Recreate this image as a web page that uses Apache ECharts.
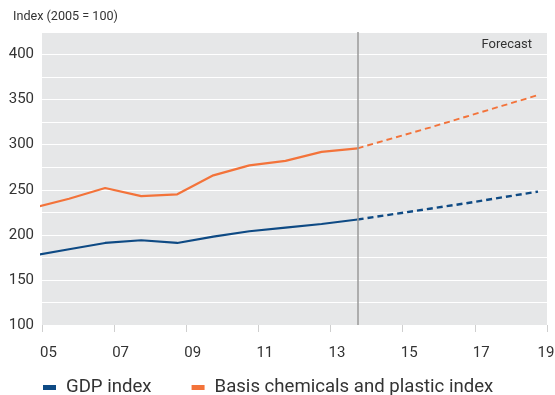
<!DOCTYPE html>
<html>
<head>
<meta charset="utf-8">
<script src="https://cdn.jsdelivr.net/npm/echarts@6/dist/echarts.min.js"></script>
<style>
html,body{margin:0;padding:0;background:#fff;}
#chart{width:555px;height:395px;}
</style>
</head>
<body>
<div id="chart"></div>
<script>
// Data (annual values plotted at year + 0.75)
const actualYears   = [2004.75, 2005.75, 2006.75, 2007.75, 2008.75, 2009.75, 2010.75, 2011.75, 2012.75, 2013.75];
const gdpActual     = [177, 184, 191, 194, 191, 198, 204, 208, 212, 217];
const chemActual    = [230, 240, 252, 243, 245, 266, 277, 282, 292, 296];
const forecastYears = [2013.75, 2014.75, 2015.75, 2016.75, 2017.75, 2018.75];
const gdpForecast   = [217, 223, 229, 235, 241.5, 248];
const chemForecast  = [296, 307.5, 319, 331, 343, 355];
const xTickLabels   = ['05', '07', '09', '11', '13', '15', '17', '19'];
const seriesNames   = ['GDP index', 'Basis chemicals and plastic index'];
const forecastStart = 2013.75;
const baseYear = 2005;

const toPts = (xs, ys) => xs.map((x, i) => [x - baseYear, ys[i]]);
const FONT = 'Roboto';
const BLUE = '#0e4a84', ORANGE = '#f3733a';

const chart = echarts.init(document.getElementById('chart'), null, {renderer: 'canvas'});
chart.setOption({
  animation: false,
  textStyle: {fontFamily: FONT},
  grid: {left: 42, right: 8, top: 32, bottom: 70, show: true, backgroundColor: '#e6e7e8', borderWidth: 0,
         containLabel: false, outerBoundsMode: 'none'},
  graphic: [
    {type: 'text', left: 13, top: 10, style: {text: 'Index (2005 = 100)', font: '12.6px Roboto', fill: '#333'}},
    {type: 'text', right: 23, top: 38, style: {text: 'Forecast', font: '13px Roboto', fill: '#333'}}
  ],
  legend: {
    left: 38, top: 373, itemGap: 40, itemWidth: 13, itemHeight: 5, icon: 'rect',
    data: seriesNames,
    textStyle: {fontFamily: FONT, fontSize: 18.6, color: '#333', padding: [0, 0, 0, 5]}
  },
  xAxis: {
    type: 'value', min: 0, max: 14, interval: 2,
    axisLine: {show: false},
    axisTick: {show: true, length: 7, lineStyle: {color: '#cfcfcf', width: 1}},
    splitLine: {show: false},
    axisLabel: {
      margin: 21, align: 'left', alignMaxLabel: 'center', fontSize: 15, color: '#333', fontFamily: FONT,
      padding: [0,0,0,-2],
      formatter: v => xTickLabels[Math.round(v / 2)] || ''
    }
  },
  yAxis: {
    type: 'value', min: 100, max: 425, interval: 25,
    axisLine: {show: false}, axisTick: {show: false},
    splitLine: {show: true, lineStyle: {color: '#ffffff', width: 1}},
    axisLabel: {
      margin: 8, fontSize: 15, color: '#333', fontFamily: FONT,
      formatter: v => (v % 50 === 0 && v < 425) ? String(v) : ''
    }
  },
  series: [
    {name: seriesNames[0], type: 'line', color: BLUE, symbol: 'none', clip: false,
     data: toPts(actualYears, gdpActual), lineStyle: {width: 2.2, color: BLUE}, z: 3,
     markLine: {silent: true, symbol: 'none', label: {show: false},
       lineStyle: {color: '#9a9a9a', width: 1.5, type: 'solid'},
       data: [{xAxis: forecastStart - baseYear}]}},
    {name: seriesNames[0], type: 'line', color: BLUE, symbol: 'none', clip: false,
     data: toPts(forecastYears, gdpForecast), lineStyle: {width: 2.4, color: BLUE, type: [6, 4]}, z: 3},
    {name: seriesNames[1], type: 'line', color: ORANGE, symbol: 'none', clip: false,
     data: toPts(actualYears, chemActual), lineStyle: {width: 2.2, color: ORANGE}, z: 3},
    {name: seriesNames[1], type: 'line', color: ORANGE, symbol: 'none', clip: false,
     data: toPts(forecastYears, chemForecast), lineStyle: {width: 1.9, color: ORANGE, type: [6, 4]}, z: 3}
  ]
});
</script>
</body>
</html>
